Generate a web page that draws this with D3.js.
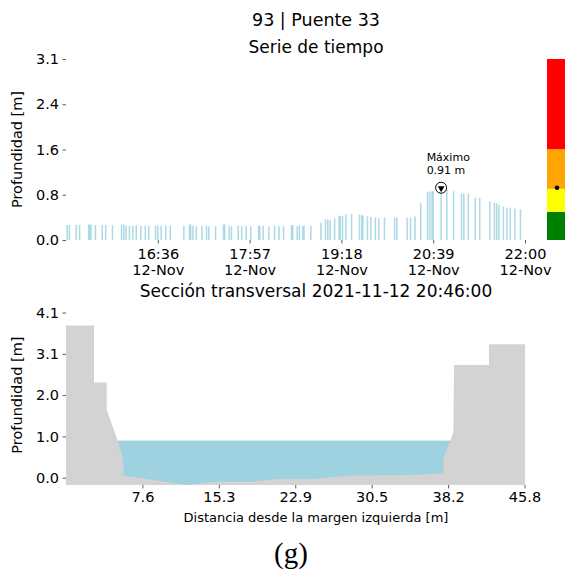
<!DOCTYPE html>
<html>
<head>
<meta charset="utf-8">
<script src="https://cdn.jsdelivr.net/npm/d3@7"></script>
<style>
body { margin: 0; background: #fff; }
text { font-family: "DejaVu Sans", sans-serif; fill: #000; }
</style>
</head>
<body>
<svg id="chart" width="565" height="574"></svg>
<script>
// serie de tiempo (12-Nov-2021)
var horas = ["15:16","15:18","15:24","15:27","15:35","15:36","15:37","15:41","15:47","15:50",
  "15:56","16:04","16:06","16:08","16:11","16:14","16:17","16:21","16:25","16:28",
  "16:34","16:36","16:39","16:43","16:47","16:59","17:04","17:05","17:07","17:10",
  "17:15","17:19","17:21","17:27","17:34","17:35","17:39","17:41","17:47","17:50",
  "17:54","17:58","18:05","18:06","18:09","18:14","18:19","18:23","18:27","18:34",
  "18:35","18:39","18:41","18:44","18:45","18:51","19:00","19:04","19:06","19:08",
  "19:12","19:16","19:17","19:19","19:22","19:27","19:34","19:36","19:37","19:41",
  "19:44","19:48","19:51","19:56","20:05","20:07","20:16","20:19","20:23","20:28",
  "20:34","20:36","20:38","20:39","20:46","20:51","20:57","21:04","21:06","21:10",
  "21:16","21:20","21:29","21:33","21:35","21:37","21:41","21:44","21:47","21:51","21:56"];
var profundidad = [0.26,0.26,0.26,0.26,0.27,0.27,0.27,0.26,0.26,0.26,
  0.26,0.27,0.27,0.25,0.25,0.25,0.26,0.25,0.25,0.25,
  0.25,0.25,0.25,0.25,0.25,0.25,0.27,0.27,0.25,0.24,
  0.25,0.25,0.24,0.24,0.27,0.27,0.25,0.24,0.25,0.24,
  0.25,0.24,0.25,0.25,0.25,0.24,0.25,0.24,0.24,0.26,
  0.26,0.24,0.25,0.25,0.25,0.25,0.30,0.36,0.36,0.35,
  0.38,0.42,0.42,0.42,0.45,0.45,0.44,0.44,0.42,0.41,
  0.40,0.39,0.38,0.39,0.39,0.39,0.39,0.39,0.41,0.64,
  0.84,0.84,0.85,0.85,0.91,0.87,0.85,0.81,0.81,0.81,
  0.74,0.73,0.67,0.65,0.64,0.61,0.58,0.56,0.56,0.55,0.53];
var xTickHoras = ["16:36","17:57","19:18","20:39","22:00"];
var yTickTop = [0, 0.7875, 1.575, 2.3625, 3.15];
var yTickTopLabels = ["0.0","0.8","1.6","2.4","3.1"];

// semaforo de alerta
var nivelCortes = [0, 0.49, 0.89, 1.58, 3.15];
var nivelColores = ["#008000","#ffff00","#ffa500","#ff0000"];
var nivelActual = 0.91;

// seccion transversal
var distancia = [0, 0, 2.8, 2.8, 4.07, 4.07, 5.13, 5.73, 5.73, 7.39, 12.05, 15.05, 18.4, 21.4,
  24.7, 28.0, 34.7, 37.7, 37.7, 38.4, 38.7, 38.76, 42.25, 42.25, 45.85, 45.85];
var cota = [-0.18, 3.78, 3.78, 2.36, 2.36, 1.68, 0.94, 0.44, 0.05, -0.01, -0.18, -0.1, -0.1, -0.03,
  -0.03, 0.05, 0.07, 0.11, 0.48, 0.93, 1.14, 2.8, 2.8, 3.31, 3.31, -0.18];
var nivelAgua = 0.92;
var xTickSec = [7.633, 15.267, 22.9, 30.533, 38.167, 45.8];
var xTickSecLabels = ["7.6","15.3","22.9","30.5","38.2","45.8"];
var yTickSec = [0, 1.025, 2.05, 3.075, 4.1];
var yTickSecLabels = ["0.0","1.0","2.0","3.1","4.1"];

var svg = d3.select("#chart");
var parseHora = d3.timeParse("%Y-%m-%d %H:%M");
var fecha = "2021-11-12 ";
var tiempos = horas.map(function (h) { return parseHora(fecha + h); });

var TOP = { left: 66, right: 525, top: 59, bottom: 240 };
var BOT = { left: 66, right: 524.5, y0: 477.7, y41: 312.5 };
var CX = 316;

// titulos
svg.append("text").attr("x", CX).attr("y", 26).attr("text-anchor", "middle")
  .style("font-size", "17.5px").text("93 | Puente 33");
svg.append("text").attr("x", CX).attr("y", 53).attr("text-anchor", "middle")
  .style("font-size", "17px").text("Serie de tiempo");
svg.append("text").attr("x", CX).attr("y", 297).attr("text-anchor", "middle")
  .style("font-size", "17px").text("Sección transversal 2021-11-12 20:46:00");

// ---- serie de tiempo ----
var xTop = d3.scaleTime()
  .domain([parseHora(fecha + "15:15"), parseHora(fecha + "22:00")])
  .range([TOP.left, TOP.right]);
var yTop = d3.scaleLinear().domain([0, 3.15]).range([TOP.bottom, TOP.top]);

var gTop = svg.append("g");

gTop.selectAll("line.bar")
  .data(profundidad)
  .enter().append("line")
  .attr("class", "bar")
  .attr("x1", function (d, i) { return xTop(tiempos[i]); })
  .attr("x2", function (d, i) { return xTop(tiempos[i]); })
  .attr("y1", yTop(0))
  .attr("y2", function (d) { return yTop(d); })
  .attr("stroke", "#9fd3e3")
  .attr("stroke-width", 1.5)
  .attr("opacity", 0.85);

gTop.append("g")
  .attr("transform", "translate(" + TOP.left + ",0)")
  .call(d3.axisLeft(yTop).tickValues(yTickTop)
    .tickFormat(function (d, i) { return yTickTopLabels[i]; })
    .tickSize(3.5).tickPadding(3.5))
  .call(g => g.select(".domain").remove());

var tickTimes = xTickHoras.map(function (h) { return parseHora(fecha + h); });
var xAxisTop = gTop.append("g")
  .attr("transform", "translate(0," + TOP.bottom + ")")
  .call(d3.axisBottom(xTop).tickValues(tickTimes).tickFormat("").tickSize(3.5))
  .call(g => g.select(".domain").remove());

xAxisTop.selectAll(".tick").append("text")
  .attr("text-anchor", "middle")
  .each(function (d) {
    var t = d3.select(this);
    t.append("tspan").attr("x", 0).attr("y", 18.5).text(d3.timeFormat("%H:%M")(d));
    t.append("tspan").attr("x", 0).attr("y", 34.5).text(d3.timeFormat("%d-%b")(d));
  });

gTop.append("text")
  .attr("transform", "translate(22," + ((TOP.top + TOP.bottom) / 2) + ") rotate(-90)")
  .attr("text-anchor", "middle")
  .style("font-size", "14.5px")
  .text("Profundidad [m]");

// maximo
var iMax = d3.maxIndex(profundidad);
var mx = xTop(tiempos[iMax]), my = yTop(profundidad[iMax]);
gTop.append("circle").attr("cx", mx).attr("cy", my).attr("r", 5.5)
  .attr("fill", "#fff").attr("stroke", "#000").attr("stroke-width", 1);
gTop.append("path")
  .attr("d", d3.symbol().type(d3.symbolTriangle).size(20)())
  .attr("transform", "translate(" + mx + "," + (my + 0.5) + ") rotate(180)")
  .attr("fill", "#000");
gTop.append("text").attr("x", mx - 14.5).attr("y", my - 27)
  .style("font-size", "11px").text("Máximo");
gTop.append("text").attr("x", mx - 14.5).attr("y", my - 13.5)
  .style("font-size", "11px").text(d3.format(".2f")(profundidad[iMax]) + " m");

// barra de niveles
var gNivel = svg.append("g");
gNivel.selectAll("rect")
  .data(nivelColores)
  .enter().append("rect")
  .attr("x", 547)
  .attr("width", 20)
  .attr("y", function (d, i) { return yTop(nivelCortes[i + 1]); })
  .attr("height", function (d, i) { return yTop(nivelCortes[i]) - yTop(nivelCortes[i + 1]); })
  .attr("fill", function (d) { return d; });
gNivel.append("circle").attr("cx", 557).attr("cy", yTop(nivelActual)).attr("r", 2.3).attr("fill", "#000");

// ---- seccion transversal ----
var xSec = d3.scaleLinear().domain([0, 45.8]).range([BOT.left, BOT.right]);
var ySec = d3.scaleLinear().domain([0, 4.1]).range([BOT.y0, BOT.y41]);
var yFondo = -0.18;

var gBot = svg.append("g");

gBot.append("rect")
  .attr("x", xSec(0))
  .attr("width", xSec(45.8) - xSec(0))
  .attr("y", ySec(nivelAgua))
  .attr("height", ySec(yFondo) - ySec(nivelAgua))
  .attr("fill", "#9fd2e1");

var perfil = d3.line()
  .x(function (d) { return xSec(d[0]); })
  .y(function (d) { return ySec(d[1]); });

gBot.append("path")
  .attr("d", perfil(d3.zip(distancia, cota)) + "Z")
  .attr("fill", "#d3d3d3");

gBot.append("g")
  .attr("transform", "translate(" + BOT.left + ",0)")
  .call(d3.axisLeft(ySec).tickValues(yTickSec)
    .tickFormat(function (d, i) { return yTickSecLabels[i]; })
    .tickSize(3.5).tickPadding(3.5))
  .call(g => g.select(".domain").remove());

gBot.append("g")
  .attr("transform", "translate(0," + ySec(yFondo) + ")")
  .call(d3.axisBottom(xSec).tickValues(xTickSec)
    .tickFormat(function (d, i) { return xTickSecLabels[i]; })
    .tickSize(3.5).tickPadding(3.5))
  .call(g => g.select(".domain").remove());

gBot.append("text")
  .attr("transform", "translate(22," + ((BOT.y0 + BOT.y41) / 2) + ") rotate(-90)")
  .attr("text-anchor", "middle")
  .style("font-size", "14.5px")
  .text("Profundidad [m]");

gBot.append("text").attr("x", CX).attr("y", 522).attr("text-anchor", "middle")
  .style("font-size", "13px").text("Distancia desde la margen izquierda [m]");

// estilo de ejes
svg.selectAll(".tick text").style("font-size", "14.5px").style("font-family", "DejaVu Sans");
svg.selectAll(".tick line").attr("stroke", "#333").attr("stroke-width", 0.8);

svg.append("text").attr("x", 291).attr("y", 563).attr("text-anchor", "middle")
  .style("font-family", "Liberation Serif, serif").style("font-size", "29px").text("(g)");
</script>
</body>
</html>
